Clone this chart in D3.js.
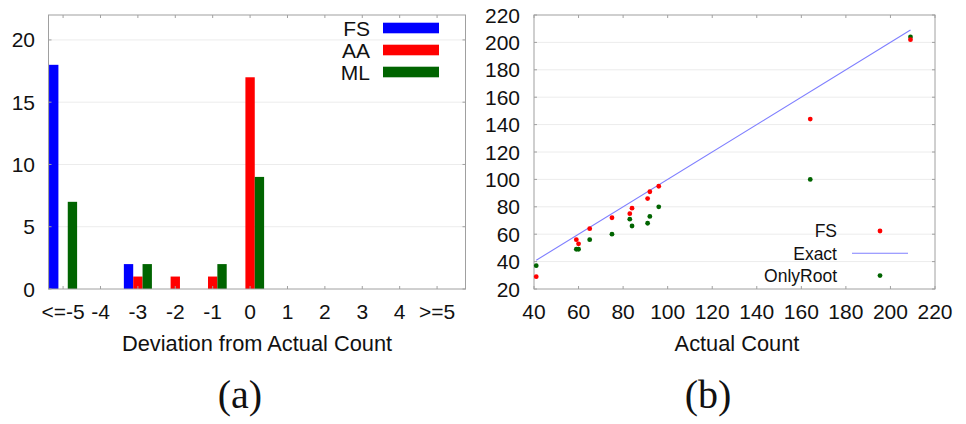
<!DOCTYPE html>
<html lang="en">
<head>
  <meta charset="UTF-8">
  <title>Deviation and Actual Count</title>
</head>
<body style="margin:0;background:#fff">
<script src="https://cdn.jsdelivr.net/npm/d3@7"></script>
<script>
// ---- data (a): histogram of deviations ----
const devCats = [-5, -4, -3, -2, -1, 0, 1, 2, 3, 4, 5]
const devLabels = ["<=-5", "-4", "-3", "-2", "-1", "0", "1", "2", "3", "4", ">=5"]
const seriesNames = ["FS", "AA", "ML"]
const seriesColors = ["#0000ff", "#ff0000", "#006400"]
const fsCounts = [18, 0, 2, 0, 0, 0, 0, 0, 0, 0, 0]
const aaCounts = [0, 0, 1, 1, 1, 17, 0, 0, 0, 0, 0]
const mlCounts = [7, 0, 2, 0, 2, 9, 0, 0, 0, 0, 0]
const barYTicks = [0, 5, 10, 15, 20]

// ---- data (b): estimated vs actual ----
const actual = [41, 59, 60, 65, 75, 83, 84, 91, 92, 96, 164, 209]
const fsEst = [29, 56, 53, 64, 72, 75, 79, 86, 91, 95, 144, 202]
const onlyRoot = [37, 49, 49, 56, 60, 71, 66, 68, 73, 80, 100, 204]
const scatTicks = [20, 40, 60, 80, 100, 120, 140, 160, 180, 200, 220]

const W = 966, H = 424
const SANS = "Liberation Sans"
const SERIF = "Liberation Serif"
const svg = d3.select("body").append("svg")
  .attr("width", W).attr("height", H)
  .attr("font-family", SANS)

const frameColor = "#a0a0a0"
const gridColor = "#ececec"
const txtColor = "#111"

// ================= (a) =================
const xa = d3.scaleLinear().domain([-5.39, 5.76]).range([48.5, 465.5])
const ya = d3.scaleLinear().domain([0, 22]).range([289, 15])
const ga = svg.append("g")

// grid
ga.selectAll(".grid").data(barYTicks.slice(1)).enter().append("line")
  .attr("x1", xa.range()[0]).attr("x2", xa.range()[1])
  .attr("y1", d => ya(d)).attr("y2", d => ya(d))
  .attr("stroke", gridColor)

const allCounts = [fsCounts, aaCounts, mlCounts]
const bw = 0.25
allCounts.forEach((vals, s) => {
  ga.append("g").selectAll("rect").data(vals.map((v, i) => ({ c: devCats[i], v })).filter(d => d.v > 0))
    .enter().append("rect")
    .attr("x", d => xa(d.c + (s - 1) * bw - bw / 2))
    .attr("width", d => xa(d.c + bw) - xa(d.c))
    .attr("y", d => ya(d.v))
    .attr("height", d => ya(0) - ya(d.v))
    .attr("fill", seriesColors[s])
})

// frame
ga.append("rect")
  .attr("x", xa.range()[0]).attr("y", ya.range()[1])
  .attr("width", xa.range()[1] - xa.range()[0])
  .attr("height", ya.range()[0] - ya.range()[1])
  .attr("fill", "none").attr("stroke", frameColor)

// tick marks (inward, mirrored)
devCats.forEach(c => {
  ga.append("line").attr("x1", xa(c)).attr("x2", xa(c)).attr("y1", ya(0)).attr("y2", ya(0) - 3).attr("stroke", frameColor)
  ga.append("line").attr("x1", xa(c)).attr("x2", xa(c)).attr("y1", ya.range()[1]).attr("y2", ya.range()[1] + 3).attr("stroke", frameColor)
})
barYTicks.forEach(t => {
  ga.append("line").attr("x1", xa.range()[0]).attr("x2", xa.range()[0] + 3).attr("y1", ya(t)).attr("y2", ya(t)).attr("stroke", frameColor)
  ga.append("line").attr("x1", xa.range()[1]).attr("x2", xa.range()[1] - 3).attr("y1", ya(t)).attr("y2", ya(t)).attr("stroke", frameColor)
})

// labels
ga.selectAll(".yl").data(barYTicks).enter().append("text")
  .attr("x", 35).attr("y", d => ya(d)).attr("dy", "0.36em").attr("fill", txtColor)
  .attr("text-anchor", "end").attr("font-size", 21).text(d => d)
ga.selectAll(".xl").data(devCats).enter().append("text")
  .attr("x", d => xa(d)).attr("y", 319).attr("fill", txtColor)
  .attr("text-anchor", "middle").attr("font-size", 21).text((d, i) => devLabels[i])
ga.append("text").attr("x", 257).attr("y", 351).attr("text-anchor", "middle").attr("fill", txtColor)
  .attr("font-size", 21.8).text("Deviation from Actual Count")
ga.append("text").attr("font-family", SERIF).attr("x", 240).attr("y", 408).attr("text-anchor", "middle")
  .attr("font-size", 40).attr("fill", txtColor).text("(a)")

// legend
seriesNames.forEach((n, i) => {
  const cy = 28 + i * 22
  ga.append("text").attr("x", 370).attr("y", cy).attr("dy", "0.36em").attr("fill", txtColor)
    .attr("text-anchor", "end").attr("font-size", 21).text(n)
  ga.append("rect").attr("x", 383).attr("y", cy - 5.3).attr("width", 56).attr("height", 10.6)
    .attr("fill", seriesColors[i])
})

// ================= (b) =================
const xb = d3.scaleLinear().domain([40, 220]).range([534, 935])
const yb = d3.scaleLinear().domain([20, 220]).range([289, 15])
const gb = svg.append("g")

gb.selectAll(".grid").data(scatTicks.slice(1, -1)).enter().append("line")
  .attr("x1", xb.range()[0]).attr("x2", xb.range()[1])
  .attr("y1", d => yb(d)).attr("y2", d => yb(d))
  .attr("stroke", gridColor)

gb.append("rect")
  .attr("x", xb.range()[0]).attr("y", yb.range()[1])
  .attr("width", xb.range()[1] - xb.range()[0])
  .attr("height", yb.range()[0] - yb.range()[1])
  .attr("fill", "none").attr("stroke", frameColor)

const xTicksB = scatTicks.filter(t => t >= 40)
xTicksB.forEach(t => {
  gb.append("line").attr("x1", xb(t)).attr("x2", xb(t)).attr("y1", yb(20)).attr("y2", yb(20) - 3).attr("stroke", frameColor)
  gb.append("line").attr("x1", xb(t)).attr("x2", xb(t)).attr("y1", yb(220)).attr("y2", yb(220) + 3).attr("stroke", frameColor)
})
scatTicks.forEach(t => {
  gb.append("line").attr("x1", xb(40)).attr("x2", xb(40) + 3).attr("y1", yb(t)).attr("y2", yb(t)).attr("stroke", frameColor)
  gb.append("line").attr("x1", xb(220)).attr("x2", xb(220) - 3).attr("y1", yb(t)).attr("y2", yb(t)).attr("stroke", frameColor)
})

// exact line y = x over the data range
const ext = d3.extent(actual)
gb.append("path")
  .attr("d", d3.line().x(d => xb(d)).y(d => yb(d))(ext))
  .attr("stroke", "#7f7fff").attr("stroke-width", 1.1).attr("fill", "none")

gb.append("g").selectAll("circle").data(actual.map((a, i) => [a, onlyRoot[i]])).enter().append("circle")
  .attr("cx", d => xb(d[0])).attr("cy", d => yb(d[1])).attr("r", 2.4).attr("fill", "#006400")
gb.append("g").selectAll("circle").data(actual.map((a, i) => [a, fsEst[i]])).enter().append("circle")
  .attr("cx", d => xb(d[0])).attr("cy", d => yb(d[1])).attr("r", 2.4).attr("fill", "#ff0000")

gb.selectAll(".yl").data(scatTicks).enter().append("text")
  .attr("x", 520).attr("y", d => yb(d)).attr("dy", "0.36em").attr("fill", txtColor)
  .attr("text-anchor", "end").attr("font-size", 21).text(d => d)
gb.selectAll(".xl").data(xTicksB).enter().append("text")
  .attr("x", d => xb(d)).attr("y", 319).attr("fill", txtColor)
  .attr("text-anchor", "middle").attr("font-size", 21).text(d => d)
gb.append("text").attr("x", 737).attr("y", 351).attr("text-anchor", "middle").attr("fill", txtColor)
  .attr("font-size", 21.8).text("Actual Count")
gb.append("text").attr("font-family", SERIF).attr("x", 708).attr("y", 408).attr("text-anchor", "middle")
  .attr("font-size", 40).attr("fill", txtColor).text("(b)")

// legend (b)
const legB = [
  { name: "FS", kind: "dot", color: "#ff0000" },
  { name: "Exact", kind: "line", color: "#7f7fff" },
  { name: "OnlyRoot", kind: "dot", color: "#006400" }
]
legB.forEach((d, i) => {
  const cy = 231 + i * 22.3
  gb.append("text").attr("x", 837).attr("y", cy).attr("dy", "0.36em").attr("fill", txtColor)
    .attr("text-anchor", "end").attr("font-size", 17.5).text(d.name)
  if (d.kind === "dot") {
    gb.append("circle").attr("cx", 880).attr("cy", cy).attr("r", 2.4).attr("fill", d.color)
  } else {
    gb.append("line").attr("x1", 852).attr("x2", 908).attr("y1", cy).attr("y2", cy)
      .attr("stroke", d.color).attr("stroke-width", 1.1)
  }
})
</script>
</body>
</html>
